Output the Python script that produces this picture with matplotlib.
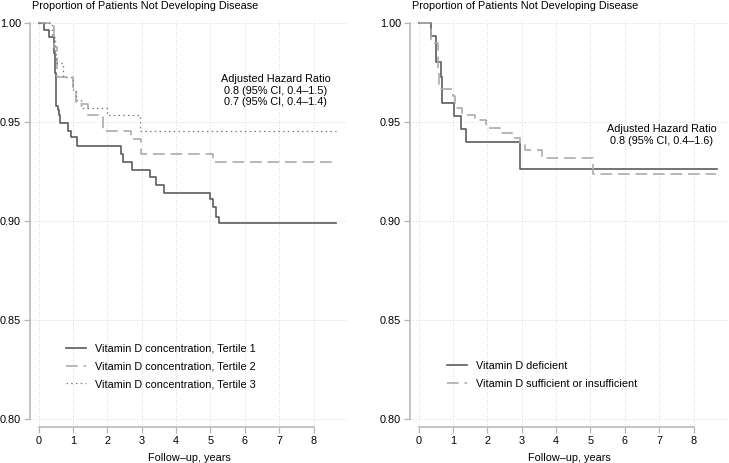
import matplotlib
matplotlib.use("Agg")
import matplotlib.pyplot as plt

plt.rcParams['font.family'] = ['Liberation Sans', 'DejaVu Sans']

# ---- left panel: tertiles (Kaplan-Meier steps)
t1_time = [0, 0.17, 0.30, 0.46, 0.48, 0.50, 0.52, 0.55, 0.59, 0.62, 0.85, 0.95, 1.11,
           2.40, 2.45, 2.72, 3.23, 3.42, 3.66, 5.00, 5.07, 5.16, 5.26, 8.65]
t1_surv = [1.0, 0.9966, 0.993, 0.985, 0.975, 0.966, 0.958, 0.956, 0.9536, 0.9497, 0.9455,
           0.9426, 0.938, 0.934, 0.930, 0.926, 0.9224, 0.918, 0.914, 0.911, 0.907, 0.902,
           0.8988, 0.8988]

t2_time = [0, 0.45, 0.53, 1.00, 1.08, 1.43, 1.87, 2.70, 2.98, 5.07, 8.65]
t2_surv = [1.0, 0.988, 0.973, 0.966, 0.959, 0.9536, 0.9455, 0.9415, 0.9337, 0.9297, 0.9297]

t3_time = [0, 0.40, 0.47, 0.52, 0.70, 1.00, 1.10, 1.22, 2.00, 2.94, 8.65]
t3_surv = [1.0, 0.993, 0.985, 0.980, 0.973, 0.966, 0.961, 0.957, 0.9536, 0.9455, 0.9455]

left_labels = ["Vitamin D concentration, Tertile 1",
               "Vitamin D concentration, Tertile 2",
               "Vitamin D concentration, Tertile 3"]
left_note = "Adjusted Hazard Ratio\n0.8 (95% CI, 0.4\u20131.5)\n0.7 (95% CI, 0.4\u20131.4)"

# ---- right panel: deficient vs sufficient/insufficient
def_time = [0, 0.35, 0.50, 0.52, 0.64, 0.68, 1.03, 1.23, 1.39, 2.96, 8.68]
def_surv = [1.0, 0.9937, 0.987, 0.9803, 0.973, 0.9598, 0.9532, 0.9466, 0.9398, 0.9263, 0.9263]

suf_time = [0, 0.35, 0.55, 0.60, 1.00, 1.05, 1.25, 1.65, 1.95, 2.36, 2.72, 2.94, 3.10,
            3.60, 5.07, 8.65]
suf_surv = [1.0, 0.990, 0.975, 0.9666, 0.963, 0.957, 0.9536, 0.951, 0.947, 0.9445, 0.942,
            0.9393, 0.936, 0.932, 0.924, 0.924]

right_labels = ["Vitamin D deficient", "Vitamin D sufficient or insufficient"]
right_note = "Adjusted Hazard Ratio\n0.8 (95% CI, 0.4\u20131.6)"

xticks = list(range(0, 9))
yticks = [0.80, 0.85, 0.90, 0.95, 1.00]

FS = 7.8
axcol = "#b4b4b4"
c_solid = "#5c5c5c"
c_dash = "#ababab"
c_dot = "#7a7a7a"

fig = plt.figure(figsize=(7.29, 4.63), dpi=100)
axL = fig.add_axes([30 / 729, 0.0784, 318 / 729, 0.8784])
axR = fig.add_axes([410 / 729, 0.0784, 318 / 729, 0.8784])


def style(ax):
    ax.set_xlim(-0.25, 9.0)
    ax.set_ylim(0.7959, 1.0017)
    ax.set_xticks(xticks)
    ax.set_yticks(yticks)
    ax.set_yticklabels(["%.2f" % v for v in yticks])
    for s in ["top", "right"]:
        ax.spines[s].set_visible(False)
    ax.spines["left"].set_bounds(0.80, 1.00)
    ax.spines["bottom"].set_bounds(0, 8)
    for s in ["left", "bottom"]:
        ax.spines[s].set_color(axcol)
        ax.spines[s].set_linewidth(1.1)
    ax.tick_params(colors=axcol, labelcolor="black", labelsize=FS,
                   length=4, width=0.9, pad=2.5)
    ax.grid(True, linestyle=(0, (1, 2.2)), color="#cfcfcf", linewidth=0.6)
    ax.set_axisbelow(True)
    ax.set_xlabel("Follow\u2013up, years", fontsize=FS, labelpad=5)


leg_kw = dict(loc="center left", frameon=False, fontsize=FS, handlelength=1.8,
              handletextpad=0.9, labelspacing=0.7, borderpad=0, borderaxespad=0,
              bbox_transform=fig.transFigure)

style(axL)
axL.step(t1_time, t1_surv, where="post", color=c_solid, lw=1.2, label=left_labels[0])
axL.step(t2_time, t2_surv, where="post", color=c_dash, lw=1.2,
         dashes=(7, 3.5), label=left_labels[1])
axL.step(t3_time, t3_surv, where="post", color=c_dot, lw=0.9,
         dashes=(1.2, 2.6), label=left_labels[2])
axL.text(6.89, 0.9659, left_note, ha="center", va="center", fontsize=FS, linespacing=1.2)
axL.legend(bbox_to_anchor=(66 / 729, 1 - 366.5 / 463), **leg_kw)

style(axR)
axR.step(def_time, def_surv, where="post", color=c_solid, lw=1.2, label=right_labels[0])
axR.step(suf_time, suf_surv, where="post", color=c_dash, lw=1.2,
         dashes=(7, 3.5), label=right_labels[1])
axR.text(7.08, 0.9435, right_note, ha="center", va="center", fontsize=FS, linespacing=1.2)
axR.legend(bbox_to_anchor=(447 / 729, 1 - 375 / 463), **leg_kw)

fig.text(32 / 729, 1 - 6 / 463, "Proportion of Patients Not Developing Disease",
         ha="left", va="center", fontsize=FS)
fig.text(412 / 729, 1 - 6 / 463, "Proportion of Patients Not Developing Disease",
         ha="left", va="center", fontsize=FS)

plt.savefig("out.png", dpi=100)
plt.close()
